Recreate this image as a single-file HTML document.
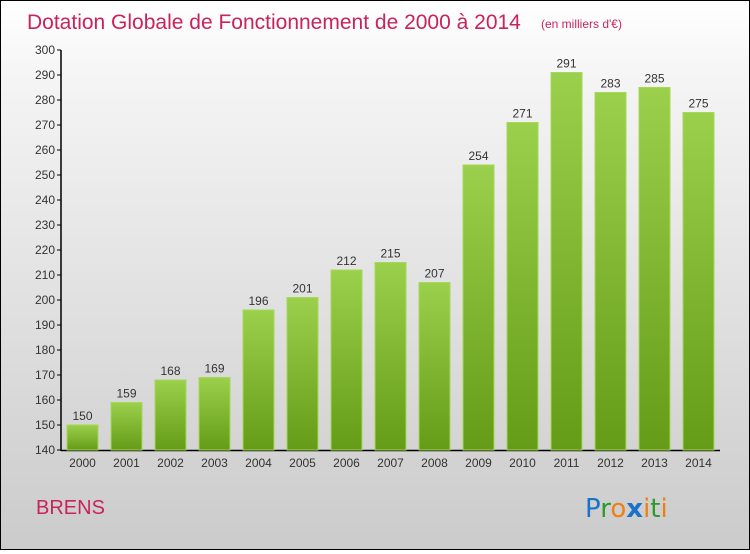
<!DOCTYPE html>
<html><head><meta charset="utf-8"><style>
body{margin:0;width:750px;height:550px;overflow:hidden;font-family:"Liberation Sans",sans-serif}
#wrap{position:absolute;left:0;top:0;width:748px;height:548px;border:1px solid #000;background:linear-gradient(#fff,#f4f4f4 15%,#cbcbcb)}
</style></head><body>
<div id="wrap">
<svg width="748" height="548">
<defs><linearGradient id="g" x1="0" y1="0" x2="0" y2="1"><stop offset="0" stop-color="#9bd04c"/><stop offset="1" stop-color="#649c17"/></linearGradient></defs>
<text x="26" y="28" font-size="21" fill="#c8245a">Dotation Globale de Fonctionnement de 2000 à 2014</text>
<text x="540" y="27" font-size="12" fill="#c8245a">(en milliers d'€)</text>
<g id="axes"></g><g id="bars"></g>
<text x="35" y="513" font-size="20" fill="#c8245a">BRENS</text>
<g font-size="26" font-family="DejaVu Sans,sans-serif"><text x="584" y="516"><tspan fill="#1a73c8">P</tspan><tspan fill="#2e9a2e">r</tspan><tspan fill="#f07f12">o</tspan><tspan fill="#1a73c8" font-weight="bold">x</tspan><tspan fill="#f07f12">i</tspan><tspan fill="#2e9a2e">t</tspan><tspan fill="#f07f12">i</tspan></text></g>
</svg></div>
<script>
const years=["2000","2001","2002","2003","2004","2005","2006","2007","2008","2009","2010","2011","2012","2013","2014"];
const values=[150,159,168,169,196,201,212,215,207,254,271,291,283,285,275];
const ticks=[140,150,160,170,180,190,200,210,220,230,240,250,260,270,280,290,300];
const S="http://www.w3.org/2000/svg";
const y=v=>449-(v-140)*2.5, x=i=>66+i*44;
function mk(t,a,p){const e=document.createElementNS(S,t);for(const k in a)e.setAttribute(k,a[k]);p.appendChild(e);return e;}
const ax=document.getElementById('axes'),bg=document.getElementById('bars');
let l=mk('line',{x1:60,y1:49,x2:60,y2:450,stroke:'#000','stroke-width':1.5},ax);


l=mk('line',{x1:60,y1:449.5,x2:719,y2:449.5,stroke:'#000','stroke-width':1.5},ax);


ticks.forEach(t=>{mk('line',{x1:56,x2:60,y1:y(t),y2:y(t),stroke:'#000'},ax);
const tx=mk('text',{x:54,y:y(t)+4,'font-size':12,fill:'#333','text-anchor':'end'},ax);tx.textContent=t;

});
values.forEach((v,i)=>{const r=mk('rect',{x:x(i),y:y(v),width:31,height:449-y(v),fill:'url(#g)',stroke:'#a6d85a','stroke-width':1},bg);


const t=mk('text',{x:x(i)+15.5,y:y(v)-5,'font-size':12,fill:'#333','text-anchor':'middle'},bg);t.textContent=v;


const c=mk('text',{x:x(i)+15.5,y:466,'font-size':12,fill:'#333','text-anchor':'middle'},bg);c.textContent=years[i];

});
</script>
</body></html>
